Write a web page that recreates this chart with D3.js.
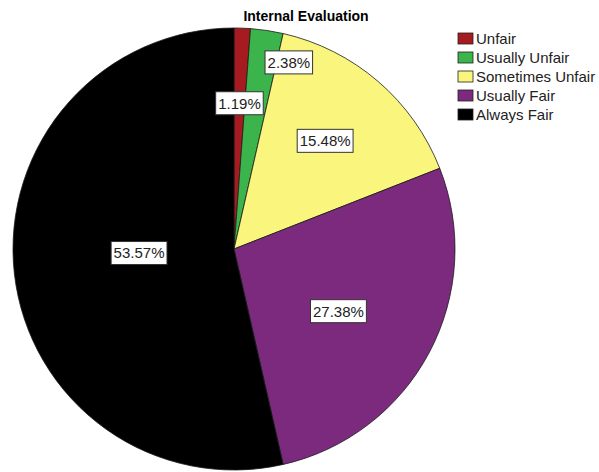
<!DOCTYPE html>
<html>
<head>
<meta charset="utf-8">
<script src="https://cdn.jsdelivr.net/npm/d3@7"></script>
<style>
  body { margin: 0; background: #fff; }
  text { font-family: "Liberation Sans", Arial, sans-serif; }
</style>
</head>
<body>
<svg id="chart" width="599" height="472"></svg>
<script>
// data
const categories = ["Unfair", "Usually Unfair", "Sometimes Unfair", "Usually Fair", "Always Fair"]
const percents = [1.19, 2.38, 15.48, 27.38, 53.57]
const colors = ["#a51b1f", "#3bb44b", "#faf57c", "#7b2a7d", "#000000"]

// label placement: fraction of radius, angle nudge (deg)
const labelRadius = [0.66, 0.88, 0.64, 0.55, 0.43]
const labelNudge = [0, 7.8, -0.6, 2.9, 4]

const svg = d3.select("#chart")
const cx = 234, cy = 249, r = 221

svg.append("text")
  .attr("x", 306).attr("y", 21)
  .attr("text-anchor", "middle")
  .style("font-weight", "bold")
  .style("font-size", "14px")
  .text("Internal Evaluation")

const pie = d3.pie().sort(null).value(d => d)
const arcs = pie(percents)
const arc = d3.arc().innerRadius(0).outerRadius(r)

const g = svg.append("g").attr("transform", `translate(${cx},${cy})`)

g.selectAll("path.slice")
  .data(arcs)
  .enter()
  .append("path")
    .attr("class", "slice")
    .attr("d", arc)
    .style("fill", (d, i) => colors[i])
    .style("stroke", "#1a1a1a")
    .style("stroke-width", 0.8)

const labels = g.selectAll("g.lab")
  .data(arcs)
  .enter()
  .append("g")
    .attr("class", "lab")
    .attr("transform", (d, i) => {
      let a = (d.startAngle + d.endAngle) / 2 + labelNudge[i] * Math.PI / 180
      let rr = r * labelRadius[i]
      return `translate(${rr * Math.sin(a)},${-rr * Math.cos(a)})`
    })

labels.each(function(d) {
  let lab = d3.select(this)
  let t = lab.append("text")
    .attr("text-anchor", "middle")
    .attr("dy", "0.36em")
    .style("font-size", "15px")
    .style("fill", "#222")
    .text(d.data.toFixed(2) + "%")
  let b = t.node().getBBox()
  lab.insert("rect", "text")
    .attr("x", b.x - 2.5).attr("y", -11.5)
    .attr("width", b.width + 5).attr("height", 23)
    .style("fill", "#fff")
    .style("stroke", "#333")
    .style("stroke-width", 1)
})

// legend
const legend = svg.append("g").attr("transform", "translate(458,33)")
const rows = legend.selectAll("g")
  .data(categories)
  .enter()
  .append("g")
    .attr("transform", (d, i) => `translate(0,${i * 19})`)

rows.append("rect")
  .attr("width", 15).attr("height", 11)
  .style("fill", (d, i) => colors[i])
  .style("stroke", "#222")
  .style("stroke-width", 0.8)

rows.append("text")
  .attr("x", 18).attr("y", 5.5)
  .attr("dy", "0.36em")
  .style("font-size", "15px")
  .style("fill", "#222")
  .text(d => d)
</script>
</body>
</html>
